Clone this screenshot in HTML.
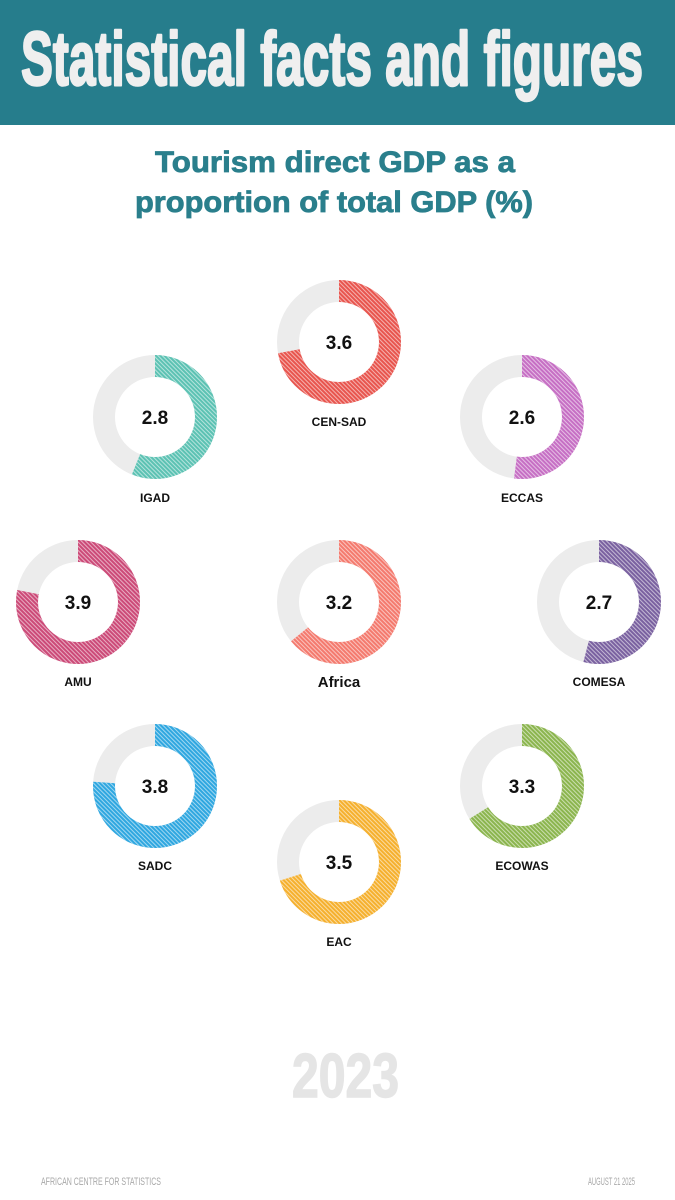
<!DOCTYPE html>
<html><head><meta charset="utf-8"><style>
html,body{margin:0;padding:0;background:#fff;}
svg{display:block;}
</style></head><body>
<svg width="675" height="1200" viewBox="0 0 675 1200" xmlns="http://www.w3.org/2000/svg">
<defs>
<pattern id="h" patternUnits="userSpaceOnUse" width="3" height="3" patternTransform="rotate(45)">
<rect width="3" height="3" fill="none"/>
<rect x="0" y="0" width="1" height="3" fill="#fff" opacity="0.55"/>
</pattern>
</defs>
<rect x="0" y="0" width="675" height="125" fill="#267d8c"/>
<text x="21" y="85" textLength="622" lengthAdjust="spacingAndGlyphs" font-family="'Liberation Sans Narrow','Liberation Sans',sans-serif" font-weight="bold" font-size="76" fill="#efefef" stroke="#efefef" stroke-width="2.5" stroke-linejoin="round">Statistical facts and figures</text>
<text x="155" y="172" textLength="360" lengthAdjust="spacingAndGlyphs" font-family="'Liberation Sans Narrow','Liberation Sans',sans-serif" font-weight="bold" font-size="30" fill="#2a7f8c" stroke="#2a7f8c" stroke-width="0.8">Tourism direct GDP as a</text>
<text x="135" y="212" textLength="398" lengthAdjust="spacingAndGlyphs" font-family="'Liberation Sans Narrow','Liberation Sans',sans-serif" font-weight="bold" font-size="30" fill="#2a7f8c" stroke="#2a7f8c" stroke-width="0.8">proportion of total GDP (%)</text>

<g font-family="'Liberation Sans',sans-serif" font-weight="bold" text-anchor="middle">
<g transform="translate(339,342)">
<circle r="51" fill="none" stroke="#ececec" stroke-width="22"/>
<circle r="51" fill="none" stroke="#e8554e" stroke-width="22" stroke-dasharray="230.7 400" transform="rotate(-90)"/>
<circle r="51" fill="none" stroke="url(#h)" stroke-width="22" stroke-dasharray="230.7 400" transform="rotate(-90)"/>
<text y="7" font-size="19" fill="#111">3.6</text>
<text y="84" font-size="12" fill="#111">CEN-SAD</text>
</g>
<g transform="translate(155,417)">
<circle r="51" fill="none" stroke="#ececec" stroke-width="22"/>
<circle r="51" fill="none" stroke="#5cc2b3" stroke-width="22" stroke-dasharray="179.4 400" transform="rotate(-90)"/>
<circle r="51" fill="none" stroke="url(#h)" stroke-width="22" stroke-dasharray="179.4 400" transform="rotate(-90)"/>
<text y="7" font-size="19" fill="#111">2.8</text>
<text y="85" font-size="12" fill="#111">IGAD</text>
</g>
<g transform="translate(522,417)">
<circle r="51" fill="none" stroke="#ececec" stroke-width="22"/>
<circle r="51" fill="none" stroke="#c66fc4" stroke-width="22" stroke-dasharray="166.6 400" transform="rotate(-90)"/>
<circle r="51" fill="none" stroke="url(#h)" stroke-width="22" stroke-dasharray="166.6 400" transform="rotate(-90)"/>
<text y="7" font-size="19" fill="#111">2.6</text>
<text y="85" font-size="12" fill="#111">ECCAS</text>
</g>
<g transform="translate(78,602)">
<circle r="51" fill="none" stroke="#ececec" stroke-width="22"/>
<circle r="51" fill="none" stroke="#cc4a78" stroke-width="22" stroke-dasharray="249.9 400" transform="rotate(-90)"/>
<circle r="51" fill="none" stroke="url(#h)" stroke-width="22" stroke-dasharray="249.9 400" transform="rotate(-90)"/>
<text y="7" font-size="19" fill="#111">3.9</text>
<text y="84" font-size="12" fill="#111">AMU</text>
</g>
<g transform="translate(339,602)">
<circle r="51" fill="none" stroke="#ececec" stroke-width="22"/>
<circle r="51" fill="none" stroke="#f47a6e" stroke-width="22" stroke-dasharray="205 400" transform="rotate(-90)"/>
<circle r="51" fill="none" stroke="url(#h)" stroke-width="22" stroke-dasharray="205 400" transform="rotate(-90)"/>
<text y="7" font-size="19" fill="#111">3.2</text>
<text y="85" font-size="15" fill="#111">Africa</text>
</g>
<g transform="translate(599,602)">
<circle r="51" fill="none" stroke="#ececec" stroke-width="22"/>
<circle r="51" fill="none" stroke="#7a61a0" stroke-width="22" stroke-dasharray="173 400" transform="rotate(-90)"/>
<circle r="51" fill="none" stroke="url(#h)" stroke-width="22" stroke-dasharray="173 400" transform="rotate(-90)"/>
<text y="7" font-size="19" fill="#111">2.7</text>
<text y="84" font-size="12" fill="#111">COMESA</text>
</g>
<g transform="translate(155,786)">
<circle r="51" fill="none" stroke="#ececec" stroke-width="22"/>
<circle r="51" fill="none" stroke="#2fa7e0" stroke-width="22" stroke-dasharray="243.5 400" transform="rotate(-90)"/>
<circle r="51" fill="none" stroke="url(#h)" stroke-width="22" stroke-dasharray="243.5 400" transform="rotate(-90)"/>
<text y="7" font-size="19" fill="#111">3.8</text>
<text y="84" font-size="12" fill="#111">SADC</text>
</g>
<g transform="translate(522,786)">
<circle r="51" fill="none" stroke="#ececec" stroke-width="22"/>
<circle r="51" fill="none" stroke="#8bb54e" stroke-width="22" stroke-dasharray="211.5 400" transform="rotate(-90)"/>
<circle r="51" fill="none" stroke="url(#h)" stroke-width="22" stroke-dasharray="211.5 400" transform="rotate(-90)"/>
<text y="7" font-size="19" fill="#111">3.3</text>
<text y="84" font-size="12" fill="#111">ECOWAS</text>
</g>
<g transform="translate(339,862)">
<circle r="51" fill="none" stroke="#ececec" stroke-width="22"/>
<circle r="51" fill="none" stroke="#f5b02e" stroke-width="22" stroke-dasharray="224.3 400" transform="rotate(-90)"/>
<circle r="51" fill="none" stroke="url(#h)" stroke-width="22" stroke-dasharray="224.3 400" transform="rotate(-90)"/>
<text y="7" font-size="19" fill="#111">3.5</text>
<text y="84" font-size="12" fill="#111">EAC</text>
</g>
</g>

<text x="292" y="1097" textLength="107" lengthAdjust="spacingAndGlyphs" font-family="'Liberation Sans Narrow','Liberation Sans',sans-serif" font-weight="bold" font-size="62" fill="#e5e5e5" stroke="#e5e5e5" stroke-width="1.5">2023</text>
<text x="41" y="1185" textLength="120" lengthAdjust="spacingAndGlyphs" font-family="'Liberation Sans Narrow','Liberation Sans',sans-serif" font-size="11" fill="#a8a8a8">AFRICAN CENTRE FOR STATISTICS</text>
<text x="588" y="1185" textLength="47" lengthAdjust="spacingAndGlyphs" font-family="'Liberation Sans Narrow','Liberation Sans',sans-serif" font-size="11" fill="#a8a8a8">AUGUST 21 2025</text>
</svg>
</body></html>
